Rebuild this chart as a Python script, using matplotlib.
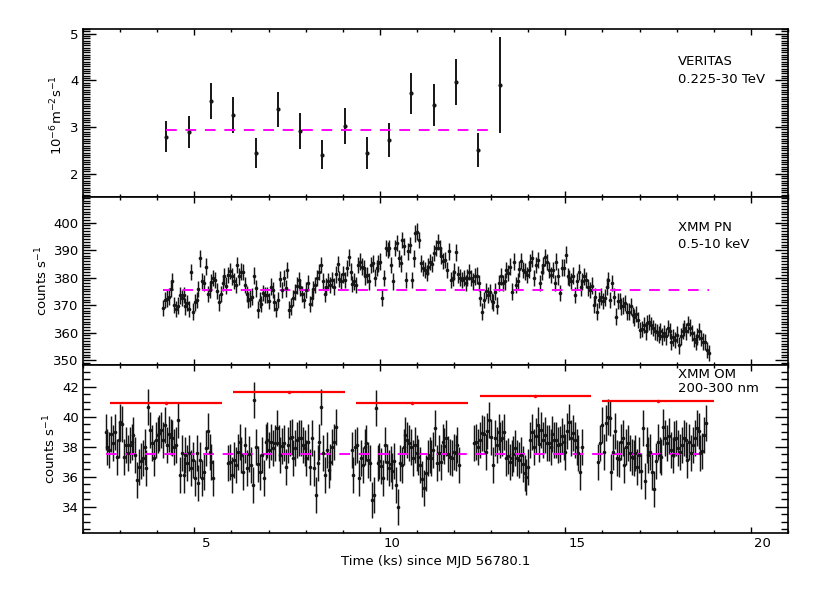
import numpy as np
import matplotlib
matplotlib.use("Agg")
import matplotlib.pyplot as plt
from matplotlib.ticker import MultipleLocator
from matplotlib.transforms import ScaledTranslation

plt.rcParams['font.family'] = ['DejaVu Sans']

# VERITAS flux (10^-6 m^-2 s^-1), 0.6 ks bins
ver_t = [4.25, 4.85, 5.45, 6.05, 6.65, 7.25, 7.85, 8.45,
         9.05, 9.65, 10.25, 10.85, 11.45, 12.05, 12.65, 13.25]
ver_f = [2.79, 2.89, 3.56, 3.26, 2.45, 3.38, 2.91, 2.41,
         3.02, 2.44, 2.72, 3.72, 3.48, 3.97, 2.51, 3.90]
ver_e = [0.33, 0.34, 0.39, 0.38, 0.32, 0.38, 0.38, 0.31,
         0.38, 0.34, 0.37, 0.44, 0.45, 0.49, 0.36, 1.03]
ver_mean = 2.94
ver_span = (4.25, 13.04)

# XMM PN rate, 50 s bins starting at 4.16 ks
pn_start = 4.16
pn_step = 0.05
pn_rate = [
    368.9, 371.9, 372.3, 373.1, 375.9, 378.8, 370.1, 368.6, 369.8, 373.5,
    372.5, 373.7, 369.5, 370.7, 368.6, 382.0, 367.6, 371.0, 371.9, 375.9,
    387.0, 378.8, 378.0, 384.0, 374.0, 375.5, 378.3, 379.8, 379.2, 375.2,
    371.0, 374.0, 378.0, 380.4, 377.1, 381.0, 382.4, 380.4, 378.8, 377.3,
    384.6, 380.4, 382.2, 382.0, 377.3, 374.0, 371.9, 372.3, 373.1, 380.7,
    376.1, 368.3, 371.9, 370.3, 374.3, 373.7, 373.7, 371.5, 376.7, 375.5,
    371.0, 368.6, 371.9, 379.5, 375.5, 379.8, 376.1, 382.8, 368.3, 369.5,
    372.5, 374.7, 377.1, 379.2, 376.4, 374.0, 371.9, 375.5, 378.0, 370.3,
    372.5, 375.9, 377.3, 379.8, 382.0, 384.6, 378.6, 374.0, 376.7, 378.8,
    377.3, 379.2, 376.7, 381.2, 384.9, 379.5, 378.8, 381.2, 379.2, 383.4,
    387.3, 382.2, 377.6, 378.6,
    377.3, 384.6, 385.8, 384.0, 383.4, 380.4, 381.0, 378.6, 384.6, 385.2,
    380.0, 383.4, 385.2, 385.8, 372.5, 379.8, 390.7, 390.1, 390.7, 384.6,
    378.6, 390.7, 392.5, 387.0, 385.2, 393.7, 391.3, 379.2, 389.5, 391.9,
    379.2, 387.0, 396.1, 396.7, 393.7, 385.2, 383.4, 382.8, 381.6, 384.0,
    385.6, 384.9, 388.9, 390.7, 392.9, 390.7, 388.0, 386.1, 386.4, 382.8,
    389.5, 379.2, 379.8, 382.2, 389.2, 381.2, 380.0, 379.2, 379.8, 378.0,
    380.0, 382.0, 379.8, 378.6, 380.4, 380.7, 378.0, 372.5, 367.6, 371.9,
    375.2, 373.7, 374.7, 371.5, 371.0, 374.9, 369.8, 378.0, 380.4, 378.0,
    378.6, 382.8, 381.6, 384.0, 374.9, 385.8, 377.3, 378.6, 383.2, 386.1,
    382.8, 382.2, 381.0, 382.8, 385.6, 387.0, 379.8, 384.6, 386.4, 378.0,
    382.0, 384.4, 387.3, 385.6,
    382.8, 381.0, 382.8, 378.0, 385.8, 380.4, 374.3, 383.6, 383.6, 388.3,
    380.4, 379.8, 378.8, 380.7, 373.7, 378.6, 382.0, 376.4, 378.6, 380.4,
    379.2, 376.4, 375.5, 377.1, 370.1, 373.1, 367.6, 371.9, 373.1, 371.5,
    372.7, 376.7, 379.2, 371.9, 378.0, 373.1, 365.8, 371.5, 371.5, 369.5,
    369.8, 370.7, 367.6, 367.6, 369.5, 366.4, 365.5, 366.7, 364.6, 361.0,
    361.3, 362.8, 360.4, 363.4, 363.8, 362.6, 361.6, 360.4, 360.1, 359.2,
    360.4, 358.6, 359.8, 358.6, 361.6, 360.6, 356.7, 358.2, 357.3, 359.2,
    355.3, 358.6, 360.6, 361.6, 360.4, 363.0, 361.8, 359.8, 357.7, 356.5,
    358.6, 360.4, 358.0, 356.7, 356.5, 353.7, 352.5,
]
pn_err = 3.0
pn_mean = 375.3

# XMM OM rate, 5 exposures of 50 s bins
om_step = 0.05
om_starts = [2.61, 5.92, 9.24, 12.55, 15.89]
om_seg1 = [
    38.96, 38.00, 37.78, 38.82, 38.22, 38.96, 37.34, 38.45, 39.67, 39.49,
    37.34, 38.11, 37.56, 38.11, 38.34, 38.78, 37.45, 35.80, 36.67, 37.05,
    37.23, 38.00, 36.56, 40.67, 39.10, 38.22, 37.23, 38.45, 38.78, 38.89,
    39.10, 38.45, 39.45, 38.11, 38.82, 38.67, 38.56, 38.00, 38.11, 39.78,
    36.10, 37.56, 36.10, 37.45, 36.90, 37.56, 36.56, 37.12, 35.89, 37.56,
    35.56, 37.12, 35.89, 36.34, 37.90, 39.05, 37.67, 36.96, 35.89]
om_seg2 = [
    36.89, 36.96, 36.11, 37.11, 36.78, 37.62, 38.33, 37.45, 36.34, 38.11,
    36.56, 37.49, 36.78, 35.45, 41.11, 38.00, 36.82, 36.34, 37.45, 35.89,
    38.33, 38.45, 37.78, 38.33, 37.89, 38.22, 39.22, 38.22, 37.45, 38.07,
    38.22, 36.67, 38.11, 38.56, 38.67, 37.23, 37.89, 38.45, 38.56, 38.56,
    38.11, 37.89, 37.23, 38.34, 36.67, 38.56, 36.56, 34.80, 36.89, 38.34,
    40.67, 37.56, 36.10, 37.78, 36.45, 37.00, 38.00, 38.34, 39.34]
om_seg3 = [
    37.78, 36.11, 38.00, 38.11, 35.89, 37.23, 36.78, 38.00, 38.22, 37.11,
    36.89, 34.45, 34.78, 40.56, 36.89, 37.05, 36.74, 35.94, 38.11, 37.00,
    36.56, 36.82, 36.38, 37.05, 35.45, 34.00, 36.89, 36.78, 38.00, 38.78,
    38.45, 38.22, 38.00, 37.27, 38.11, 37.56, 37.34, 36.78, 35.85, 35.22,
    36.23, 37.23, 37.45, 37.23, 37.78, 39.22, 36.89, 37.56, 36.96, 38.34,
    38.07, 38.56, 37.49, 37.34, 37.23, 37.62, 37.56, 38.11, 36.78]
om_seg4 = [
    38.22, 38.34, 38.00, 38.45, 38.89, 38.82, 37.62, 39.05, 39.78, 38.67,
    36.78, 38.60, 38.11, 39.00, 38.45, 38.56, 39.00, 37.23, 37.40, 36.96,
    37.23, 37.49, 37.94, 37.23, 37.11, 37.45, 36.82, 36.23, 36.00, 36.67,
    38.45, 38.96, 38.00, 38.74, 39.45, 38.16, 39.10, 38.45, 38.78, 38.22,
    38.22, 38.00, 38.82, 38.45, 38.45, 38.11, 38.16, 38.74, 38.34, 37.62,
    39.05, 39.67, 38.56, 38.89, 38.45, 38.00, 37.56, 36.34, 38.00]
om_seg5 = [
    36.96, 38.22, 39.45, 37.67, 39.56, 40.00, 39.89, 36.34, 37.62, 39.05,
    37.23, 37.18, 38.34, 38.56, 36.78, 38.00, 38.22, 37.56, 37.34, 37.23,
    37.56, 36.67, 37.45, 36.38, 39.22, 35.70, 38.11, 37.45, 37.62, 36.34,
    35.20, 37.05, 38.34, 37.45, 37.34, 39.34, 38.60, 38.22, 38.74, 37.78,
    37.45, 38.52, 38.56, 37.94, 37.67, 38.11, 38.56, 38.45, 37.11, 38.34,
    37.56, 38.11, 38.60, 39.22, 39.05, 37.56, 37.71, 38.78, 39.56]
om_err = 1.2
om_mean = 37.5
om_span = (2.61, 18.78)

# exposure averages (red)
avg_t = [4.24, 7.55, 10.87, 14.19, 17.5]
avg_f = [40.93, 41.62, 40.89, 41.40, 41.05]
avg_halfwidth = 1.5

fig = plt.figure(figsize=(8.3, 5.93), dpi=100)
ax1 = fig.add_axes([0.1, 0.6678, 0.8494, 0.2833])
ax2 = fig.add_axes([0.1, 0.3845, 0.8494, 0.2833])
ax3 = fig.add_axes([0.1, 0.1012, 0.8494, 0.2833])

ebar = dict(fmt='o', color='#151515', ms=2.6, elinewidth=1.05, capsize=0, mew=0)
dash = dict(color='#ff00ff', lw=1.4, dashes=(5.5, 4.5))

# VERITAS
ax1.errorbar(ver_t, ver_f, yerr=ver_e, fmt='o', color='#151515', ms=3,
             elinewidth=1.4, capsize=0, mew=0)
ax1.plot(ver_span, [ver_mean, ver_mean], **dash)
ax1.set_ylim(1.5, 5.1)
ax1.yaxis.set_major_locator(MultipleLocator(1))
ax1.yaxis.set_minor_locator(MultipleLocator(0.05))

# PN
pn_t = pn_start + pn_step * np.arange(len(pn_rate))
ax2.errorbar(pn_t, pn_rate, yerr=pn_err, **ebar)
ax2.plot([pn_t[0], pn_t[-1]], [pn_mean, pn_mean], **dash)
ax2.set_ylim(348.2, 409.3)
ax2.yaxis.set_major_locator(MultipleLocator(10))
ax2.yaxis.set_minor_locator(MultipleLocator(1))

# OM
for start, seg in zip(om_starts, [om_seg1, om_seg2, om_seg3, om_seg4, om_seg5]):
    t = start + om_step * np.arange(len(seg))
    ax3.errorbar(t, seg, yerr=om_err, **ebar)
ax3.plot(om_span, [om_mean, om_mean], **dash)
ax3.errorbar(avg_t, avg_f, xerr=avg_halfwidth, fmt='o', color='red',
             ms=2.5, elinewidth=1.6, capsize=0, mew=0)
ax3.set_ylim(32.25, 43.45)
ax3.yaxis.set_major_locator(MultipleLocator(2))
ax3.yaxis.set_minor_locator(MultipleLocator(0.5))

for ax in (ax1, ax2, ax3):
    ax.set_xlim(2, 21)
    ax.xaxis.set_major_locator(MultipleLocator(5))
    ax.xaxis.set_minor_locator(MultipleLocator(1))
    ax.tick_params(which='both', direction='in', top=True, right=True,
                   width=1.0, labelsize=9.5, pad=3)
    ax.tick_params(axis='y', which='major', length=9.5)
    ax.tick_params(axis='y', which='minor', length=5)
    ax.tick_params(axis='x', which='major', length=4.5)
    ax.tick_params(axis='x', which='minor', length=2.2)
    for s in ax.spines.values():
        s.set_linewidth(1.2)
for ax in (ax1, ax2):
    ax.tick_params(labelbottom=False)

ax3.set_xticks([5, 10, 15, 20])
off = ScaledTranslation(12 / 100, 0, fig.dpi_scale_trans)
for lab in ax3.get_xticklabels():
    lab.set_transform(lab.get_transform() + off)

# labels
ax1.text(-0.037, 0.49, '10$^{-6}$m$^{-2}$s$^{-1}$', rotation=90, ha='center',
         va='center', fontsize=9.5, transform=ax1.transAxes)
ax2.text(-0.058, 0.5, 'counts s$^{-1}$', rotation=90, ha='center',
         va='center', fontsize=9.5, transform=ax2.transAxes)
ax3.text(-0.047, 0.5, 'counts s$^{-1}$', rotation=90, ha='center',
         va='center', fontsize=9.5, transform=ax3.transAxes)
fig.text(0.5247, 1 - 561 / 593, 'Time (ks) since MJD 56780.1', ha='center',
         va='center', fontsize=9.5)

tx = (678 - 83) / 705
ax1.text(tx, 1 - (62 - 29) / 168, 'VERITAS', fontsize=9.5, va='center',
         transform=ax1.transAxes)
ax1.text(tx, 1 - (80 - 29) / 168, '0.225-30 TeV', fontsize=9.5, va='center',
         transform=ax1.transAxes)
ax2.text(tx, 1 - (228 - 197) / 168, 'XMM PN', fontsize=9.5, va='center',
         transform=ax2.transAxes)
ax2.text(tx, 1 - (245 - 197) / 168, '0.5-10 keV', fontsize=9.5, va='center',
         transform=ax2.transAxes)
ax3.text(tx, 1 - (375 - 365) / 168, 'XMM OM', fontsize=9.5, va='center',
         transform=ax3.transAxes)
ax3.text(tx, 1 - (389 - 365) / 168, '200-300 nm', fontsize=9.5, va='center',
         transform=ax3.transAxes)

fig.savefig('out.png', dpi=100)
